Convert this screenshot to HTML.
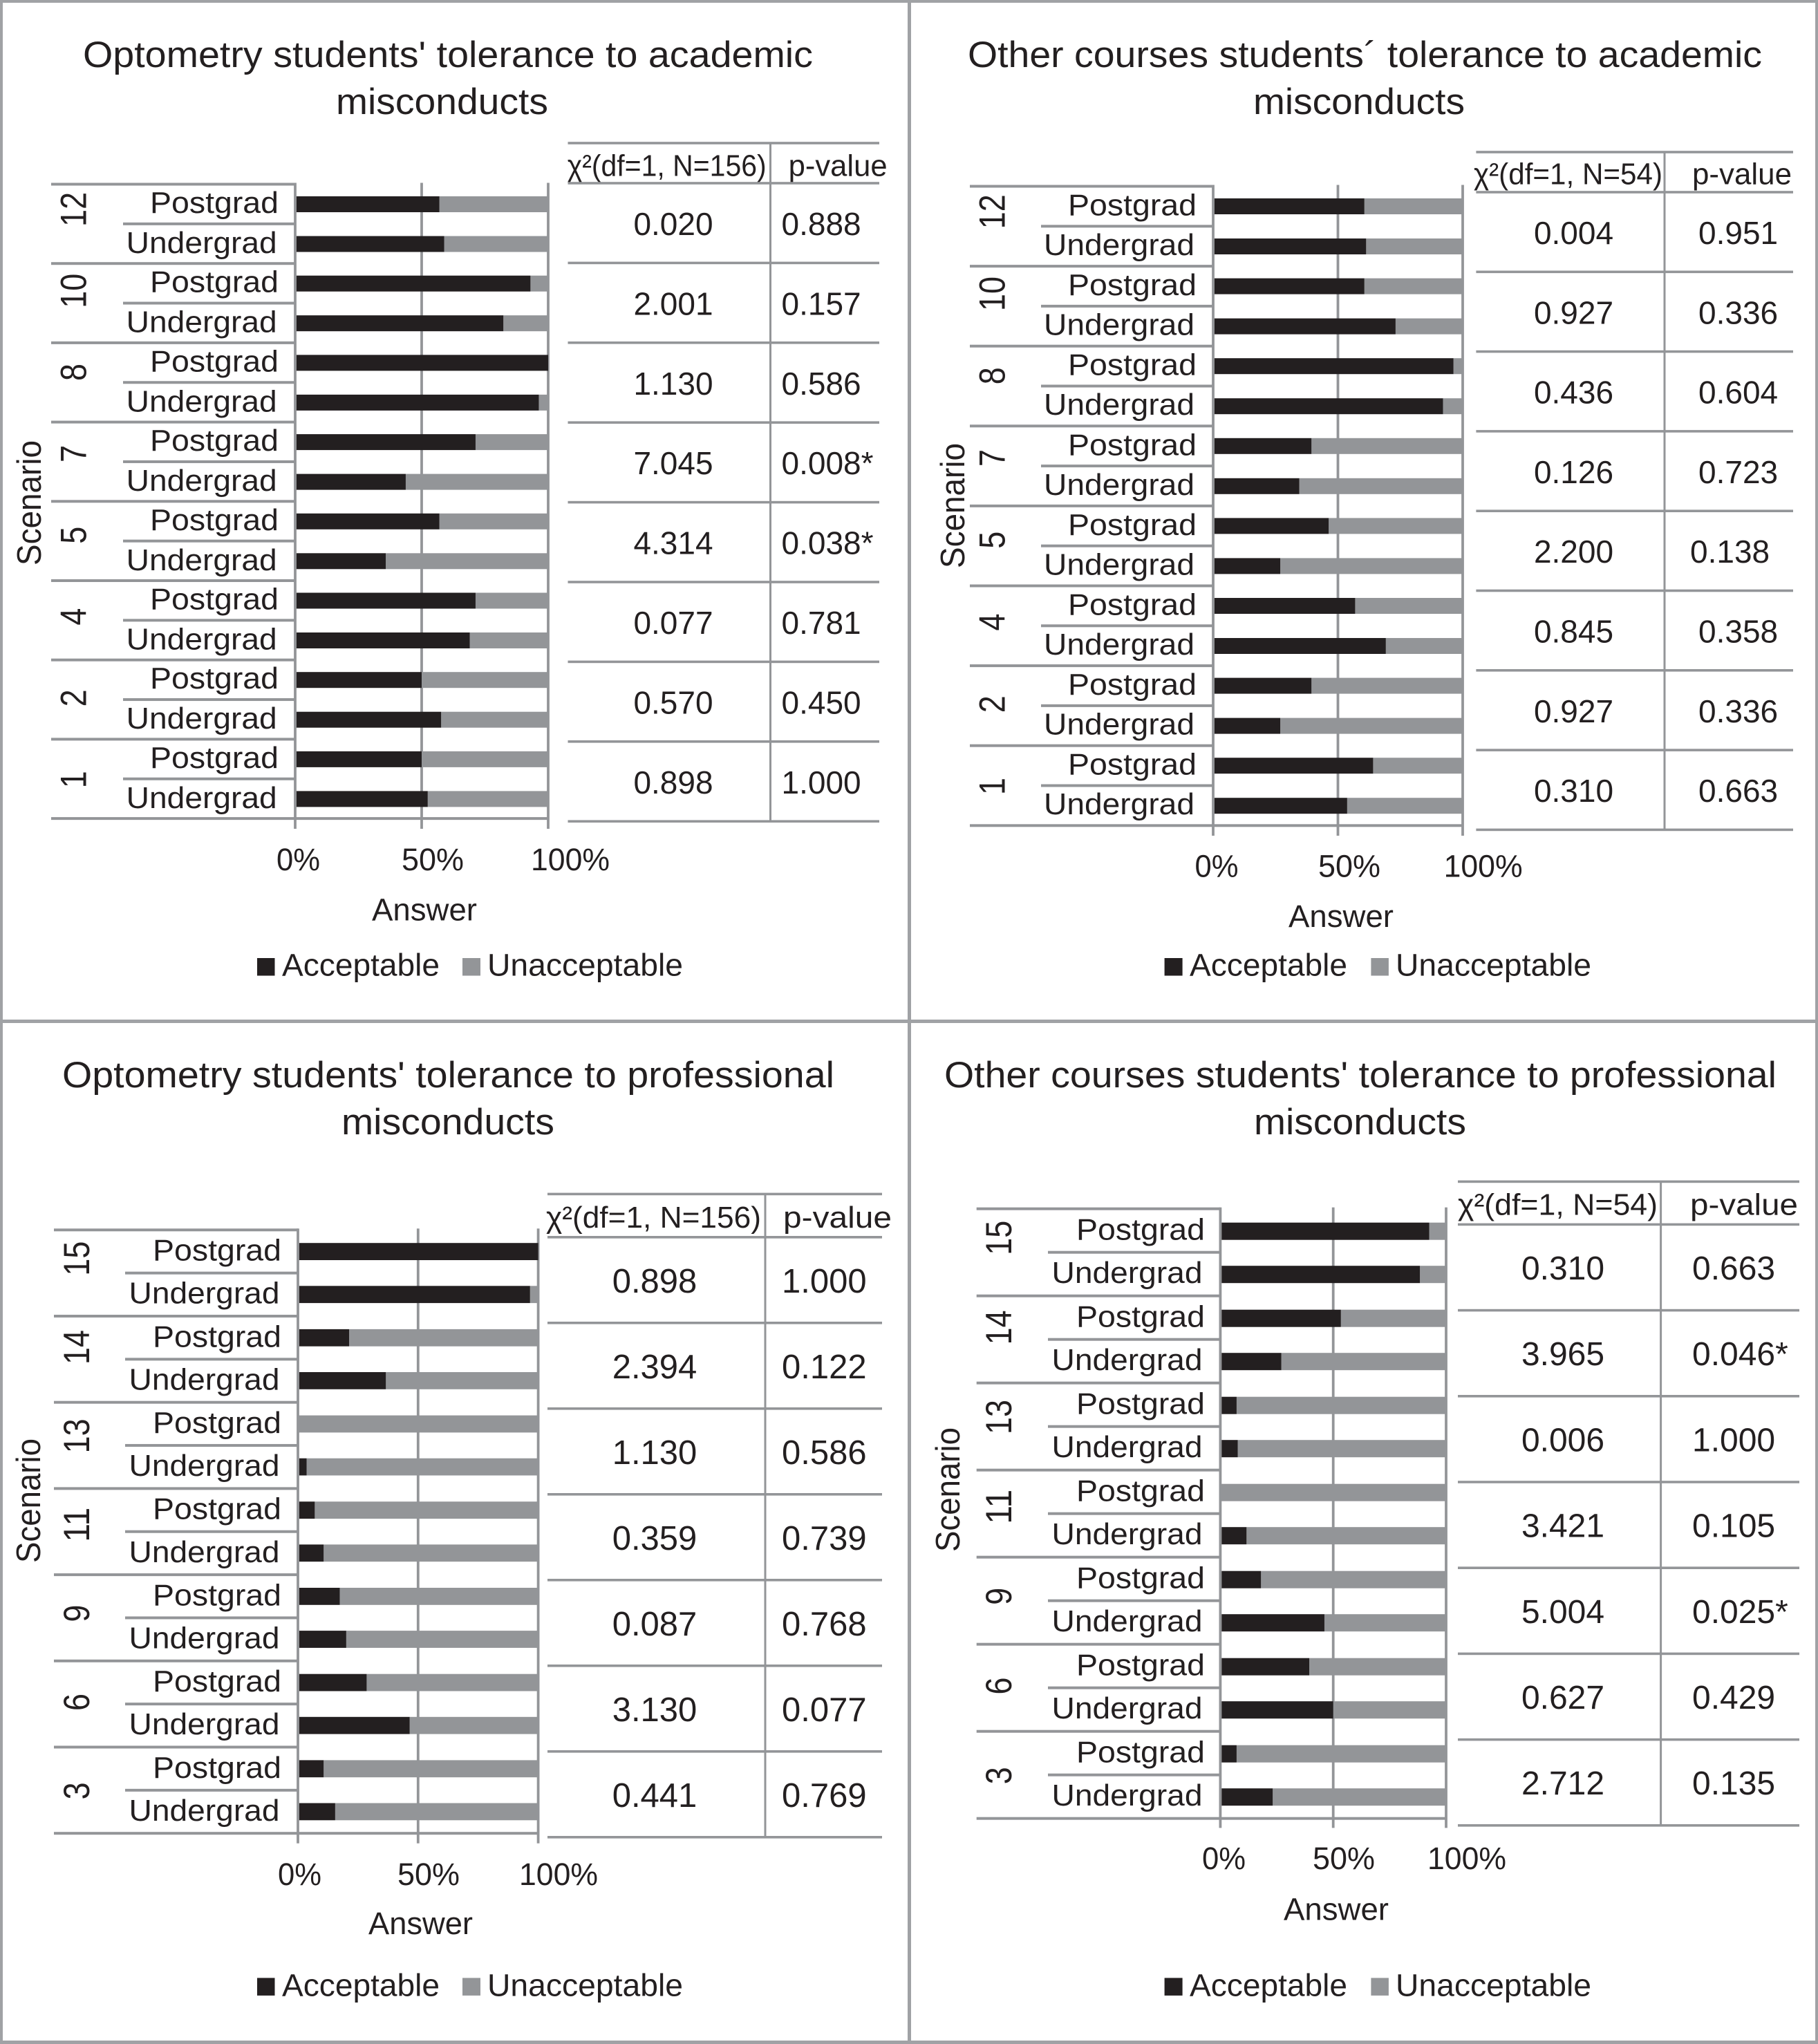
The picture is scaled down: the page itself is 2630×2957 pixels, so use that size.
<!DOCTYPE html>
<html lang="en">
<head>
<meta charset="utf-8">
<title>Students' tolerance to misconducts</title>
<style>
html,body{margin:0;padding:0;background:#fff;}
svg{display:block;}
text{font-family:"Liberation Sans",Arial,sans-serif;fill:#231f20;}
</style>
</head>
<body>
<svg id="figure" xmlns="http://www.w3.org/2000/svg" width="2630" height="2957" viewBox="0 0 2630 2957">
  <rect x="0" y="0" width="2630" height="2957" fill="#ffffff"/>
  <g fill="#a0a2a5">
    <rect x="0" y="0" width="2630" height="4"/>
    <rect x="0" y="2952" width="2630" height="5"/>
    <rect x="0" y="0" width="4" height="2957"/>
    <rect x="2626" y="0" width="4" height="2957"/>
    <rect x="1313" y="0" width="5" height="2957"/>
    <rect x="0" y="1475" width="2630" height="5"/>
  </g>

  <g id="static-text">
    <text x="120" y="97" font-size="53" textLength="1056" lengthAdjust="spacingAndGlyphs">Optometry students' tolerance to academic</text>
    <text x="486" y="165" font-size="53" textLength="307" lengthAdjust="spacingAndGlyphs">misconducts</text>
    <text x="1400" y="97" font-size="53" textLength="1149" lengthAdjust="spacingAndGlyphs">Other courses students´ tolerance to academic</text>
    <text x="1813" y="165" font-size="53" textLength="306" lengthAdjust="spacingAndGlyphs">misconducts</text>
    <text x="90" y="1573" font-size="53" textLength="1117" lengthAdjust="spacingAndGlyphs">Optometry students' tolerance to professional</text>
    <text x="494" y="1641" font-size="53" textLength="308" lengthAdjust="spacingAndGlyphs">misconducts</text>
    <text x="1366" y="1573" font-size="53" textLength="1204" lengthAdjust="spacingAndGlyphs">Other courses students' tolerance to professional</text>
    <text x="1814" y="1641" font-size="53" textLength="307" lengthAdjust="spacingAndGlyphs">misconducts</text>

    <text x="538" y="1331.5" font-size="45" textLength="152" lengthAdjust="spacingAndGlyphs">Answer</text>
    <text x="1864" y="1341" font-size="45" textLength="152" lengthAdjust="spacingAndGlyphs">Answer</text>
    <text x="533" y="2798" font-size="45" textLength="151" lengthAdjust="spacingAndGlyphs">Answer</text>
    <text x="1857" y="2777.6" font-size="45" textLength="152" lengthAdjust="spacingAndGlyphs">Answer</text>

    <text transform="translate(59,818) rotate(-90)" x="0" y="0" font-size="49" textLength="181" lengthAdjust="spacingAndGlyphs">Scenario</text>
    <text transform="translate(1395,822) rotate(-90)" x="0" y="0" font-size="49" textLength="181" lengthAdjust="spacingAndGlyphs">Scenario</text>
    <text transform="translate(58,2261) rotate(-90)" x="0" y="0" font-size="49" textLength="180" lengthAdjust="spacingAndGlyphs">Scenario</text>
    <text transform="translate(1388,2245) rotate(-90)" x="0" y="0" font-size="49" textLength="180" lengthAdjust="spacingAndGlyphs">Scenario</text>

    <g>
      <rect x="372" y="1386" width="25.5" height="25.5" fill="#231f20"/>
      <text x="408" y="1411.7" font-size="45" textLength="228" lengthAdjust="spacingAndGlyphs">Acceptable</text>
      <rect x="669" y="1386" width="26" height="25.5" fill="#939598"/>
      <text x="705" y="1411.7" font-size="45" textLength="283" lengthAdjust="spacingAndGlyphs">Unacceptable</text>
    </g>
    <g>
      <rect x="1684.6" y="1386" width="26" height="25.5" fill="#231f20"/>
      <text x="1721" y="1411.7" font-size="45" textLength="228" lengthAdjust="spacingAndGlyphs">Acceptable</text>
      <rect x="1983.4" y="1386" width="25.5" height="25.5" fill="#939598"/>
      <text x="2019" y="1411.7" font-size="45" textLength="283" lengthAdjust="spacingAndGlyphs">Unacceptable</text>
    </g>
    <g>
      <rect x="372" y="2861.4" width="25.5" height="25.5" fill="#231f20"/>
      <text x="408" y="2887.5" font-size="45" textLength="228" lengthAdjust="spacingAndGlyphs">Acceptable</text>
      <rect x="669" y="2861.4" width="26" height="25.5" fill="#939598"/>
      <text x="705" y="2887.5" font-size="45" textLength="283" lengthAdjust="spacingAndGlyphs">Unacceptable</text>
    </g>
    <g>
      <rect x="1684.6" y="2861.4" width="26" height="25.5" fill="#231f20"/>
      <text x="1721" y="2887.5" font-size="45" textLength="228" lengthAdjust="spacingAndGlyphs">Acceptable</text>
      <rect x="1983.4" y="2861.4" width="25.5" height="25.5" fill="#939598"/>
      <text x="2019" y="2887.5" font-size="45" textLength="283" lengthAdjust="spacingAndGlyphs">Unacceptable</text>
    </g>
  </g>
</svg>

<script>
// ---- Data ----
const levels = ['Postgrad', 'Undergrad'];
const xTicks = [0, 50, 100];
const xTickLabels = ['0%', '50%', '100%'];

const scenariosOptAcademic = ['12', '10', '8', '7', '5', '4', '2', '1'];
const postgradOptAcademic = [57, 93, 100, 71.3, 57, 71.3, 50, 50];
const undergradOptAcademic = [58.9, 82.3, 96.3, 43.7, 35.8, 69, 57.7, 52.4];
const chiOptAcademic = ['0.020', '2.001', '1.130', '7.045', '4.314', '0.077', '0.570', '0.898'];
const pOptAcademic = ['0.888', '0.157', '0.586', '0.008*', '0.038*', '0.781', '0.450', '1.000'];

const scenariosOtherAcademic = ['12', '10', '8', '7', '5', '4', '2', '1'];
const postgradOtherAcademic = [60.6, 60.6, 96.3, 39.4, 46.3, 56.9, 39.4, 64.1];
const undergradOtherAcademic = [61.3, 73.1, 92.1, 34.5, 26.9, 69.2, 26.9, 53.7];
const chiOtherAcademic = ['0.004', '0.927', '0.436', '0.126', '2.200', '0.845', '0.927', '0.310'];
const pOtherAcademic = ['0.951', '0.336', '0.604', '0.723', '0.138', '0.358', '0.336', '0.663'];

const scenariosOptProfessional = ['15', '14', '13', '11', '9', '6', '3'];
const postgradOptProfessional = [100, 21.3, 0, 7, 17.4, 28.6, 10.7];
const undergradOptProfessional = [96.6, 36.6, 3.6, 10.7, 20.1, 46.5, 15.5];
const chiOptProfessional = ['0.898', '2.394', '1.130', '0.359', '0.087', '3.130', '0.441'];
const pOptProfessional = ['1.000', '0.122', '0.586', '0.739', '0.768', '0.077', '0.769'];

const scenariosOtherProfessional = ['15', '14', '13', '11', '9', '6', '3'];
const postgradOtherProfessional = [92.5, 53.4, 7.2, 0, 18, 39.4, 7.2];
const undergradOtherProfessional = [88.4, 27, 7.7, 11.6, 46.1, 50, 23.2];
const chiOtherProfessional = ['0.310', '3.965', '0.006', '3.421', '5.004', '0.627', '2.712'];
const pOtherProfessional = ['0.663', '0.046*', '1.000', '0.105', '0.025*', '0.429', '0.135'];

const chiHeaderN156 = 'χ²(df=1, N=156)';
const chiHeaderN54 = 'χ²(df=1, N=54)';
const pHeader = 'p-value';

// ---- Layout (geometry only) ----
const panels = [
  { id: 'optometry-academic', scenarios: scenariosOptAcademic, post: postgradOptAcademic, under: undergradOptAcademic, chi: chiOptAcademic, p: pOptAcademic, chiHead: chiHeaderN156,
    x0: 427, x100: 793, top: 266.5, step: 114.7, labelX: 74, subX: 178, barY: [17.5, 75], barH: 23, base: [41.5, 99.5], textX: [217, 182.7], digitX: 124.5, tickBottom: 1199, tickX: [400, 581, 768], tickBase: 1259,
    tx0: 821.5, tx1: 1272, tdiv: 1114.5, ttop: 207, thead: 265, tstep: 115.4, c1: 974, c2: 1130.5, rowBase: 75, rowFont: 46, chiX: 820.7, chiW: 288, pX: 1140.6, pW: 143, headBase: 254.5, shiftRow: -1, shift: 0 },
  { id: 'other-academic', scenarios: scenariosOtherAcademic, post: postgradOtherAcademic, under: undergradOtherAcademic, chi: chiOtherAcademic, p: pOtherAcademic, chiHead: chiHeaderN54,
    x0: 1755, x100: 2116, top: 269.5, step: 115.6, labelX: 1403, subX: 1506, barY: [17.5, 75.5], barH: 23, base: [42, 99.5], textX: [1545, 1510], digitX: 1453.7, tickBottom: 1209, tickX: [1728.5, 1907, 2088.6], tickBase: 1268.5,
    tx0: 2135.4, tx1: 2594, tdiv: 2408, ttop: 220, thead: 278, tstep: 115.3, c1: 2276.5, c2: 2457, rowBase: 75, rowFont: 46, chiX: 2132, chiW: 273, pX: 2448, pW: 144, headBase: 266.6, shiftRow: 4, shift: -12 },
  { id: 'optometry-professional', scenarios: scenariosOptProfessional, post: postgradOptProfessional, under: undergradOptProfessional, chi: chiOptProfessional, p: pOptProfessional, chiHead: chiHeaderN156,
    x0: 431, x100: 778.6, top: 1779.3, step: 124.7, labelX: 78, subX: 181, barY: [18.9, 81], barH: 24.8, base: [44.3, 106.4], textX: [221, 186.5], digitX: 128.8, tickBottom: 2666.7, tickX: [402, 575, 751], tickBase: 2726.8,
    tx0: 792, tx1: 1276, tdiv: 1107, ttop: 1727.4, thead: 1789.8, tstep: 124, c1: 947, c2: 1131, rowBase: 80, rowFont: 49, chiX: 790, chiW: 311, pX: 1133, pW: 157, headBase: 1776, shiftRow: -1, shift: 0 },
  { id: 'other-professional', scenarios: scenariosOtherProfessional, post: postgradOtherProfessional, under: undergradOtherProfessional, chi: chiOtherProfessional, p: pOtherProfessional, chiHead: chiHeaderN54,
    x0: 1765.4, x100: 2092, top: 1748.7, step: 126, labelX: 1412.7, subX: 1516, barY: [20, 82.5], barH: 25, base: [44.8, 107.3], textX: [1557, 1521.5], digitX: 1463, tickBottom: 2644.4, tickX: [1739, 1899, 2065], tickBase: 2703.8,
    tx0: 2109, tx1: 2603, tdiv: 2402.6, ttop: 1709.4, thead: 1771.4, tstep: 124.2, c1: 2261, c2: 2448, rowBase: 79.6, rowFont: 48, chiX: 2109, chiW: 289, pX: 2445, pW: 156, headBase: 1757.5, shiftRow: -1, shift: 0 }
];

const levelWidths = [186, 218];
const tickWidths = [63, 90, 114];
const darkColor = '#231f20';
const lightColor = '#939598';
const lineColor = '#939598';
const NS = 'http://www.w3.org/2000/svg';
const root = document.getElementById('figure');

function makeRect(parent, name, x, y, w, h, fill) {
  const el = document.createElementNS(NS, 'rect');
  
  
  el.setAttribute('x', x);
  el.setAttribute('y', y);
  el.setAttribute('width', Math.max(w, 0));
  el.setAttribute('height', h);
  el.setAttribute('fill', fill);
  parent.appendChild(el);
  return el;
}

function makeText(parent, name, str, x, y, size, width) {
  const el = document.createElementNS(NS, 'text');
  
  
  el.setAttribute('x', x);
  el.setAttribute('y', y);
  el.setAttribute('font-size', size);
  if (width) {
    el.setAttribute('textLength', width);
    el.setAttribute('lengthAdjust', 'spacingAndGlyphs');
  }
  el.textContent = str;
  parent.appendChild(el);
  return el;
}

function drawPanel(cfg) {
  const g = document.createElementNS(NS, 'g');
  
  
  root.appendChild(g);

  const xScale = v => cfg.x0 + (cfg.x100 - cfg.x0) * v / 100;
  const n = cfg.scenarios.length;

  // grid lines and axis
  xTicks.forEach((t, i) => {
    const x = xScale(t);
    const w = 3.8;
    makeRect(g, 'x-gridline-' + t, x - w / 2, cfg.top - 2, w, cfg.tickBottom - cfg.top + 2, lineColor);
    makeText(g, 'x-tick-label-' + t, xTickLabels[i], cfg.tickX[i], cfg.tickBase, 45, tickWidths[i]);
  });

  // category lines
  for (let i = 0; i <= n; i++) {
    const y = cfg.top + cfg.step * i;
    const right = i === n ? cfg.x100 : cfg.x0;
    makeRect(g, 'group-separator-' + i, cfg.labelX, y - 2, right - cfg.labelX, 4, lineColor);
  }

  // bars and labels
  cfg.scenarios.forEach((scenario, i) => {
    const gy = cfg.top + cfg.step * i;
    makeRect(g, 'level-separator-' + scenario, cfg.subX, gy + cfg.step / 2 - 2, cfg.x0 - cfg.subX, 4, lineColor);

    const drift = -21 + 22 * i / (n - 1);
    const len = scenario.length * 25;
    const digitY = gy + cfg.step / 2 + drift + len / 2;
    const label = makeText(g, 'scenario-label-' + scenario, scenario, 0, 0, 53, len);
    label.setAttribute('transform', 'translate(' + cfg.digitX + ',' + digitY + ') rotate(-90)');

    levels.forEach((level, j) => {
      const value = j === 0 ? cfg.post[i] : cfg.under[i];
      const key = scenario + '-' + level.toLowerCase();
      const by = gy + cfg.barY[j];
      makeRect(g, 'bar-unacceptable-' + key, xScale(value), by, xScale(100) - xScale(value), cfg.barH, lightColor);
      makeRect(g, 'bar-acceptable-' + key, xScale(0) + 1.9, by, xScale(value) - xScale(0) - 1.9, cfg.barH, darkColor);
      makeText(g, 'level-label-' + key, level, cfg.textX[j], gy + cfg.base[j], 44, levelWidths[j]);
    });
  });

  // statistics table
  const t = document.createElementNS(NS, 'g');
  
  
  g.appendChild(t);
  const tableBottom = cfg.thead + cfg.tstep * n;
  makeRect(t, 'table-top-rule', cfg.tx0, cfg.ttop - 1.8, cfg.tx1 - cfg.tx0, 3.6, lineColor);
  makeRect(t, 'table-column-divider', cfg.tdiv - 1.5, cfg.ttop, 3, tableBottom - cfg.ttop, lineColor);
  makeText(t, 'table-header-chi-square', cfg.chiHead, cfg.chiX, cfg.headBase, 44, cfg.chiW);
  makeText(t, 'table-header-p-value', pHeader, cfg.pX, cfg.headBase, 44, cfg.pW);
  for (let i = 0; i <= n; i++) {
    const y = cfg.thead + cfg.tstep * i;
    makeRect(t, 'table-row-rule-' + i, cfg.tx0, y - 1.8, cfg.tx1 - cfg.tx0, 3.6, lineColor);
  }
  cfg.chi.forEach((value, i) => {
    const y = cfg.thead + cfg.tstep * i + cfg.rowBase;
    const chiLabel = makeText(t, 'chi-square-value-' + cfg.scenarios[i], value, cfg.c1, y, cfg.rowFont);
    chiLabel.setAttribute('text-anchor', 'middle');
    const px = cfg.c2 + (i === cfg.shiftRow ? cfg.shift : 0);
    makeText(t, 'p-value-' + cfg.scenarios[i], cfg.p[i], px, y, cfg.rowFont);
  });
}

panels.forEach(drawPanel);
</script>
</body>
</html>
